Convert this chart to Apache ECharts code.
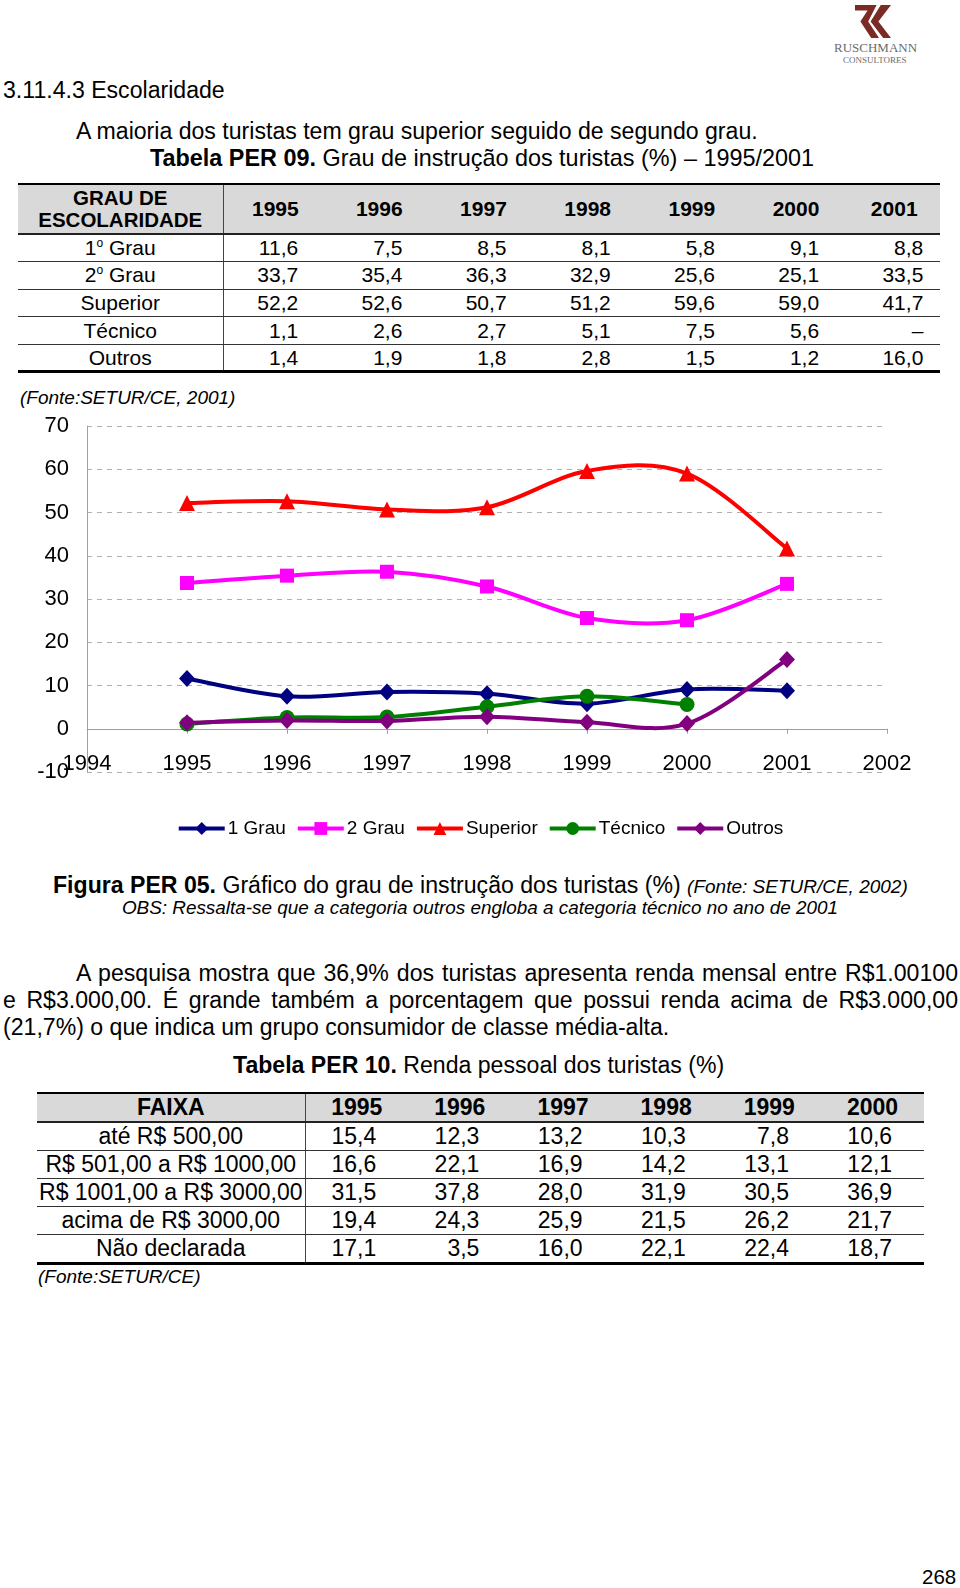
<!DOCTYPE html>
<html>
<head>
<meta charset="utf-8">
<script src="https://cdn.jsdelivr.net/npm/echarts@6/dist/echarts.min.js"></script>
<style>
  html, body { margin: 0; padding: 0; background: #fff; }
  body { width: 960px; height: 1588px; position: relative; overflow: hidden;
         font-family: "Liberation Sans", Arial, Helvetica, sans-serif; color: #000; }
  .t { position: absolute; white-space: nowrap; }
  .j { position: absolute; white-space: nowrap; text-align: justify; text-align-last: justify; }
  table.tb { position: absolute; border-collapse: collapse; table-layout: fixed; }
  table.tb td { padding: 0; white-space: nowrap; }
</style>
</head>
<body>
<script>
// ---------- data ----------
const years1 = ['1995', '1996', '1997', '1998', '1999', '2000', '2001'];
const yearNums = [1995, 1996, 1997, 1998, 1999, 2000, 2001];
const levelNames = ['1º Grau', '2º Grau', 'Superior', 'Técnico', 'Outros'];
const grau1 = [11.6, 7.5, 8.5, 8.1, 5.8, 9.1, 8.8];
const grau2 = [33.7, 35.4, 36.3, 32.9, 25.6, 25.1, 33.5];
const superior = [52.2, 52.6, 50.7, 51.2, 59.6, 59.0, 41.7];
const tecnico = [1.1, 2.6, 2.7, 5.1, 7.5, 5.6, null];
const outros = [1.4, 1.9, 1.8, 2.8, 1.5, 1.2, 16.0];
const seriesNames = ['1 Grau', '2 Grau', 'Superior', 'Técnico', 'Outros'];
const xTicks = [1994, 1995, 1996, 1997, 1998, 1999, 2000, 2001, 2002];
const yTicks = [-10, 0, 10, 20, 30, 40, 50, 60, 70];

const years2 = ['1995', '1996', '1997', '1998', '1999', '2000'];
const faixas = ['até R$ 500,00', 'R$ 501,00 a R$ 1000,00', 'R$ 1001,00 a R$ 3000,00', 'acima de R$ 3000,00', 'Não declarada'];
const renda500 = [15.4, 12.3, 13.2, 10.3, 7.8, 10.6];
const renda1000 = [16.6, 22.1, 16.9, 14.2, 13.1, 12.1];
const renda3000 = [31.5, 37.8, 28.0, 31.9, 30.5, 36.9];
const rendaAcima = [19.4, 24.3, 25.9, 21.5, 26.2, 21.7];
const rendaND = [17.1, 3.5, 16.0, 22.1, 22.4, 18.7];
</script>

<!-- logo -->
<svg style="position:absolute;left:855px;top:5px" width="36" height="33" viewBox="0 0 30 30" preserveAspectRatio="none">
  <polygon points="0,0 18,0 11,15 20,30 13.5,30 4.5,15 10.5,5 0,5" fill="#7b2a24"/>
  <polygon points="21.5,0 30,0 19.5,15 30,30 23.5,30 13,15" fill="#7b2a24"/>
</svg>
<div class="t" style="left:834px;top:40px;font:13px 'Liberation Serif',serif;color:#6b6b6b;line-height:16px">RUSCHMANN</div>
<div class="t" style="left:843px;top:54px;font:9px 'Liberation Serif',serif;color:#6b6b6b;line-height:12px">CONSULTORES</div>

<div class="t" style="left:3px;top:76px;font-size:23.1px;line-height:28px">3.11.4.3 Escolaridade</div>
<div class="t" style="left:76px;top:117px;font-size:23.1px;line-height:28px">A maioria dos turistas tem grau superior seguido de segundo grau.</div>
<div class="t" style="left:150px;top:144px;font-size:23.4px;line-height:28px"><b>Tabela PER 09.</b> Grau de instrução dos turistas (%) – 1995/2001</div>

<div id="table1"></div>

<div class="t" style="left:20px;top:386px;font-size:19px;line-height:24px;font-style:italic">(Fonte:SETUR/CE, 2001)</div>

<div id="chart" style="position:absolute;left:0;top:400px;width:960px;height:450px"></div>

<div class="t" style="left:53px;top:871px;font-size:23.1px;line-height:28px"><b>Figura PER 05.</b> Gráfico do grau de instrução dos turistas (%) <span style="font-size:19px;font-style:italic">(Fonte: SETUR/CE, 2002)</span></div>
<div class="t" style="left:0;width:960px;text-align:center;top:897px;font-size:18.9px;line-height:22px;font-style:italic">OBS: Ressalta-se que a categoria outros engloba a categoria técnico no ano de 2001</div>

<div class="j" style="left:76px;width:882px;top:959px;font-size:23.1px;line-height:28px">A pesquisa mostra que 36,9% dos turistas apresenta renda mensal entre R$1.00100</div>
<div class="j" style="left:3px;width:955px;top:986px;font-size:23.1px;line-height:28px">e R$3.000,00. É grande também a porcentagem que possui renda acima de R$3.000,00</div>
<div class="t" style="left:3px;top:1013px;font-size:23.1px;line-height:28px">(21,7%) o que indica um grupo consumidor de classe média-alta.</div>

<div class="t" style="left:233px;top:1051px;font-size:23.1px;line-height:28px"><b>Tabela PER 10.</b> Renda pessoal dos turistas (%)</div>

<div id="table2"></div>

<div class="t" style="left:38px;top:1265px;font-size:19px;line-height:24px;font-style:italic">(Fonte:SETUR/CE)</div>

<div class="t" style="left:922px;top:1565px;font-size:20.5px;line-height:24px">268</div>

<script>
function fmt(v) { return v == null ? '–' : v.toFixed(1).replace('.', ','); }

// ---------- table 1 ----------
(function () {
  const rows = [grau1, grau2, superior, tecnico, outros];
  const widths = [104.2, 104.2, 104.2, 104.2, 104.2, 104.2, 92.2];
  const pads = [29, 29, 29, 29, 29, 29, 17];
  let h = '<table class="tb" style="left:18px;top:183px;width:922px;font-size:21px;border-top:2.5px solid #000;border-bottom:3px solid #000">';
  h += '<colgroup><col style="width:205px">' + widths.map(w => '<col style="width:' + w + 'px">').join('') + '</colgroup>';
  h += '<tr style="height:50px;background:#d9d9d9;font-weight:bold">';
  h += '<td style="text-align:center;line-height:22px;font-size:20.5px;border-right:1px solid #444;border-bottom:2px solid #222">GRAU DE<br>ESCOLARIDADE</td>';
  years1.forEach(y => { h += '<td style="text-align:center;border-bottom:2px solid #222">' + y + '</td>'; });
  h += '</tr>';
  rows.forEach((r, i) => {
    const last = i === rows.length - 1;
    const bb = last ? '' : 'border-bottom:1.5px solid #333;';
    const lbl = levelNames[i].replace('º', '<sup style="font-size:12px">o</sup>');
    h += '<tr style="height:27.6px">';
    h += '<td style="text-align:center;border-right:1px solid #444;' + bb + '">' + lbl + '</td>';
    r.forEach((v, k) => { h += '<td style="text-align:right;padding-right:' + pads[k] + 'px;' + bb + '">' + fmt(v) + '</td>'; });
    h += '</tr>';
  });
  h += '</table>';
  document.getElementById('table1').innerHTML = h;
})();

// ---------- table 2 ----------
(function () {
  const rows = [renda500, renda1000, renda3000, rendaAcima, rendaND];
  let h = '<table class="tb" style="left:37px;top:1092px;width:887px;font-size:23px;border-top:2.5px solid #000;border-bottom:3px solid #000">';
  h += '<colgroup><col style="width:268px">' + years2.map(() => '<col style="width:103.2px">').join('') + '</colgroup>';
  h += '<tr style="height:29px;background:#d9d9d9;font-weight:bold">';
  h += '<td style="text-align:center;border-right:1px solid #444;border-bottom:2px solid #222">FAIXA</td>';
  years2.forEach(y => { h += '<td style="text-align:center;border-bottom:2px solid #222">' + y + '</td>'; });
  h += '</tr>';
  rows.forEach((r, i) => {
    const last = i === rows.length - 1;
    const bb = last ? '' : 'border-bottom:1.5px solid #333;';
    h += '<tr style="height:28px">';
    h += '<td style="text-align:center;border-right:1px solid #444;' + bb + '">' + faixas[i] + '</td>';
    r.forEach(v => { h += '<td style="text-align:right;padding-right:32px;' + bb + '">' + fmt(v) + '</td>'; });
    h += '</tr>';
  });
  h += '</table>';
  document.getElementById('table2').innerHTML = h;
})();

// ---------- chart ----------
const chart = echarts.init(document.getElementById('chart'), null, { renderer: 'canvas' });
const pairs = arr => yearNums.map((y, i) => [y, arr[i]]).filter(p => p[1] != null);
const styles = [
  { color: '#000080', symbol: 'diamond', size: [16, 17], data: grau1 },
  { color: '#FF00FF', symbol: 'rect', size: 14, data: grau2 },
  { color: '#FF0000', symbol: 'triangle', size: 16, data: superior },
  { color: '#008000', symbol: 'circle', size: 15, data: tecnico },
  { color: '#800080', symbol: 'diamond', size: [16, 17], data: outros }
];
const FONT = '"Liberation Sans", Arial, sans-serif';

// Excel-like smoothed line (Catmull-Rom bezier through the data points, in axis coordinates)
function smoothCurve(pts, color) {
  return function (params, api) {
    const i = params.dataIndex, n = pts.length;
    if (i >= n - 1) return null;
    const c = k => api.coord(pts[Math.max(0, Math.min(n - 1, k))]);
    const p0 = c(i - 1), p1 = c(i), p2 = c(i + 1), p3 = c(i + 2);
    return {
      type: 'bezierCurve',
      shape: {
        x1: p1[0], y1: p1[1], x2: p2[0], y2: p2[1],
        cpx1: p1[0] + (p2[0] - p0[0]) / 6, cpy1: p1[1] + (p2[1] - p0[1]) / 6,
        cpx2: p2[0] - (p3[0] - p1[0]) / 6, cpy2: p2[1] - (p3[1] - p1[1]) / 6
      },
      style: { stroke: color, lineWidth: 4, fill: null, lineCap: 'round' },
      silent: true
    };
  };
}

const curveSeries = styles.map((s, i) => {
  const pts = pairs(s.data);
  return {
    name: '_curve' + i,
    type: 'custom',
    data: pts,
    encode: { x: 0, y: 1 },
    renderItem: smoothCurve(pts, s.color),
    silent: true,
    z: 2
  };
});
const markerSeries = styles.map((s, i) => ({
  name: seriesNames[i],
  type: 'line',
  data: pairs(s.data),
  symbol: s.symbol,
  symbolSize: s.size,
  showSymbol: true,
  lineStyle: { color: s.color, width: 4, opacity: 0 },
  itemStyle: { color: s.color, borderWidth: 0 },
  z: 3 + i
}));

chart.setOption({
  animation: false,
  grid: { left: 87, right: 73, top: 26, bottom: 78 },
  xAxis: {
    type: 'value', min: xTicks[0], max: xTicks[xTicks.length - 1], interval: 1,
    axisLine: { show: true, onZero: true, lineStyle: { color: '#a0a0a0', width: 1 } },
    axisTick: { show: true, length: 5, lineStyle: { color: '#a0a0a0' } },
    axisLabel: { fontSize: 22, color: '#000', fontFamily: FONT, margin: -19, formatter: v => String(v) },
    splitLine: { show: false }
  },
  yAxis: {
    type: 'value', min: yTicks[0], max: yTicks[yTicks.length - 1], interval: 10,
    axisLine: { show: true, lineStyle: { color: '#a0a0a0', width: 1 } },
    axisTick: { show: false },
    axisLabel: { fontSize: 22, color: '#000', fontFamily: FONT, margin: 18 },
    splitLine: { show: true, lineStyle: { color: '#b0b0b0', type: [5, 5], width: 1 } }
  },
  legend: {
    data: seriesNames,
    left: 'center', top: 414,
    itemWidth: 46, itemHeight: 16, itemGap: 10,
    lineStyle: { width: 4, opacity: 1 },
    textStyle: { fontSize: 19, color: '#000', fontFamily: FONT, padding: [0, 0, 0, -2] }
  },
  series: curveSeries.concat(markerSeries)
});
</script>
</body>
</html>
